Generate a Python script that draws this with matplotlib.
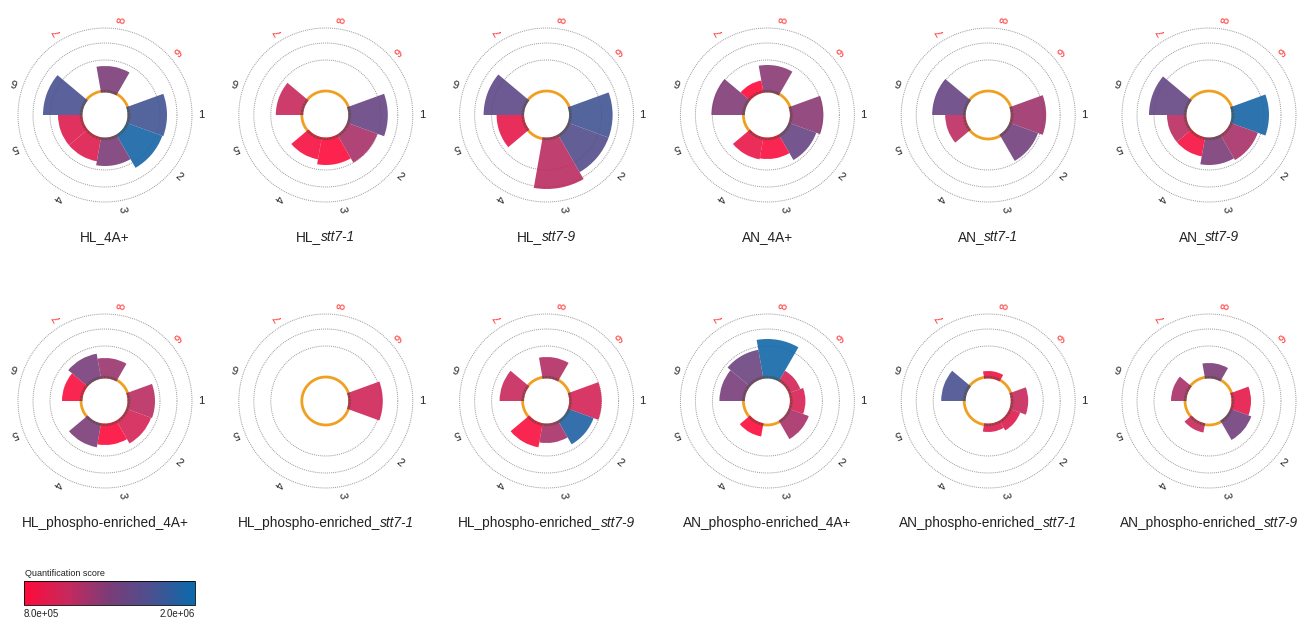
import numpy as np
import matplotlib
matplotlib.use("Agg")
import matplotlib.pyplot as plt
from matplotlib.colors import LinearSegmentedColormap, Normalize
from matplotlib.cm import ScalarMappable

plt.rcParams['font.family'] = ['Liberation Sans', 'DejaVu Sans']

W, H = 1303, 617

sector_labels = ['1', '2', '3', '4', '5', '6', '7', '8', '9']
title_plain = ['HL_', 'HL_', 'HL_', 'AN_', 'AN_', 'AN_',
               'HL_phospho-enriched_', 'HL_phospho-enriched_', 'HL_phospho-enriched_',
               'AN_phospho-enriched_', 'AN_phospho-enriched_', 'AN_phospho-enriched_']
title_italic = ['', 'stt7-1', 'stt7-9', '', 'stt7-1', 'stt7-9',
                '', 'stt7-1', 'stt7-9', '', 'stt7-1', 'stt7-9']
title_tail = ['4A+', '', '', '4A+', '', '', '4A+', '', '', '4A+', '', '']

# outer radius of each sector bar (0 = no bar), hole radius 24
r_hl_4a = [62, 61, 51, 47, 47, 62, 0, 49, 0]
r_hl_s1 = [62, 55, 50, 45, 0, 50, 0, 0, 0]
r_hl_s9 = [66, 66, 74, 0, 50, 63, 0, 0, 0]
r_an_4a = [56, 52, 44, 45, 0, 56, 35, 50, 0]
r_an_s1 = [58, 53, 0, 0, 43, 56, 0, 0, 0]
r_an_s9 = [60, 52, 50, 42, 42, 60, 0, 0, 0]
r_hlp_4a = [50, 49, 44, 47, 0, 43, 48, 43, 0]
r_hlp_s1 = [57, 0, 0, 0, 0, 0, 0, 0, 0]
r_hlp_s9 = [55, 50, 42, 47, 0, 47, 0, 44, 0]
r_anp_4a = [38, 44, 0, 36, 0, 48, 52, 62, 35]
r_anp_s1 = [40, 34, 31, 0, 0, 47, 0, 30, 0]
r_anp_s9 = [42, 45, 0, 32, 0, 38, 0, 38, 0]

# quantification score (x1e6), nan = no bar
q_hl_4a = [1.74, 1.94, 1.40, 0.98, 0.98, 1.70, np.nan, 1.40, np.nan]
q_hl_s1 = [1.52, 1.22, 0.82, 0.86, np.nan, 1.10, np.nan, np.nan, np.nan]
q_hl_s9 = [1.74, 1.64, 1.16, np.nan, 0.94, 1.58, np.nan, np.nan, np.nan]
q_an_4a = [1.34, 1.52, 0.84, 0.92, np.nan, 1.38, 0.80, 1.34, np.nan]
q_an_s1 = [1.26, 1.46, np.nan, np.nan, 1.14, 1.52, np.nan, np.nan, np.nan]
q_an_s9 = [1.94, 1.22, 1.40, 0.86, 1.16, 1.54, np.nan, np.nan, np.nan]
q_hlp_4a = [1.16, 1.04, 0.82, 1.40, np.nan, 0.84, 1.42, 1.28, np.nan]
q_hlp_s1 = [1.06, np.nan, np.nan, np.nan, np.nan, np.nan, np.nan, np.nan, np.nan]
q_hlp_s9 = [1.04, 1.90, 1.22, 0.84, np.nan, 1.10, np.nan, 1.18, np.nan]
q_anp_4a = [1.02, 1.22, np.nan, 0.82, np.nan, 1.42, 1.50, 1.96, 1.04]
q_anp_s1 = [1.10, 0.98, 0.98, np.nan, np.nan, 1.70, np.nan, 0.90, np.nan]
q_anp_s9 = [0.94, 1.46, np.nan, 1.10, np.nan, 1.22, np.nan, 1.40, np.nan]

radii = [r_hl_4a, r_hl_s1, r_hl_s9, r_an_4a, r_an_s1, r_an_s9,
         r_hlp_4a, r_hlp_s1, r_hlp_s9, r_anp_4a, r_anp_s1, r_anp_s9]
scores = [q_hl_4a, q_hl_s1, q_hl_s9, q_an_4a, q_an_s1, q_an_s9,
          q_hlp_4a, q_hlp_s1, q_hlp_s9, q_anp_4a, q_anp_s1, q_anp_s9]

cmap = LinearSegmentedColormap.from_list(
    'quant', ['#ff0a3a', '#c8285c', '#7a3c78', '#4a5090', '#0a6aac'])
norm = Normalize(vmin=0.8, vmax=2.0)

hole = 24
grid_r = [55, 72, 87]
label_r = 96
width = 2 * np.pi / 9

fig = plt.figure(figsize=(W / 100, H / 100), dpi=100)
renderer = fig.canvas.get_renderer()

col_x = [105 + 220.8 * i for i in range(6)]
row_y = [115, 401]

for i in range(12):
    cx = col_x[i % 6]
    cy = row_y[i // 6]
    ax = fig.add_axes([(cx - 100) / W, 1 - (cy + 100) / H, 200 / W, 200 / H],
                      projection='polar')
    ax.set_theta_zero_location('E')
    ax.set_theta_direction(-1)
    ax.set_ylim(0, 100)
    ax.axis('off')

    t = np.linspace(0, 2 * np.pi, 400)
    for g in grid_r:
        ax.plot(t, np.full_like(t, g), color='#9a9a9a', lw=0.7, ls=(0, (1, 1)))
    ax.plot(t, np.full_like(t, hole), color='#f0a020', lw=2.0, zorder=2)

    theta = np.arange(9) * width
    for k in range(9):
        r = radii[i][k]
        if r <= 0:
            continue
        ax.bar(theta[k], r - hole + 1.5, width=width, bottom=hole - 1.5,
               color=cmap(norm(scores[i][k])), alpha=0.9, linewidth=0,
               zorder=3)
        arc = np.linspace(theta[k] - width / 2, theta[k] + width / 2, 40)
        ax.plot(arc, np.full_like(arc, hole), color='#555555', lw=1.3,
                ls=(0, (1, 0.8)), zorder=4)

    for k in range(9):
        ax.text(theta[k], label_r, sector_labels[k], fontsize=8,
                rotation=-np.degrees(theta[k]), rotation_mode='anchor',
                ha='center', va='center', clip_on=False,
                color='#ff3030' if k >= 6 else '#222222')

    # title with italic genotype part
    ty = 1 - (cy + 122) / H
    if not title_italic[i]:
        fig.text(cx / W, ty, title_plain[i] + title_tail[i], fontsize=9.8,
                 ha='center', va='center', color='#222222')
    else:
        t1 = fig.text(0, ty, title_plain[i], fontsize=9.8, ha='left',
                      va='center', color='#222222')
        t2 = fig.text(0, ty, title_italic[i], fontsize=9.8, style='italic',
                      ha='left', va='center', color='#222222')
        w1 = t1.get_window_extent(renderer).width
        w2 = t2.get_window_extent(renderer).width
        x0 = cx - (w1 + w2) / 2
        t1.set_x(x0 / W)
        t2.set_x((x0 + w1) / W)

# colour scale
fig.text(25 / W, 1 - 573 / H, 'Quantification score', fontsize=6.5,
         ha='left', va='center', color='#222222')
cax = fig.add_axes([24 / W, 1 - 605 / H, 171 / W, 24 / H])
cb = fig.colorbar(ScalarMappable(norm=norm, cmap=cmap), cax=cax,
                  orientation='horizontal')
cb.set_ticks([])
cb.outline.set_linewidth(0.6)
fig.text(24 / W, 1 - 609 / H, '8.0e+05', fontsize=7, ha='left', va='top',
         color='#222222')
fig.text(195 / W, 1 - 609 / H, '2.0e+06', fontsize=7, ha='right', va='top',
         color='#222222')

fig.savefig('out.png', dpi=100)
